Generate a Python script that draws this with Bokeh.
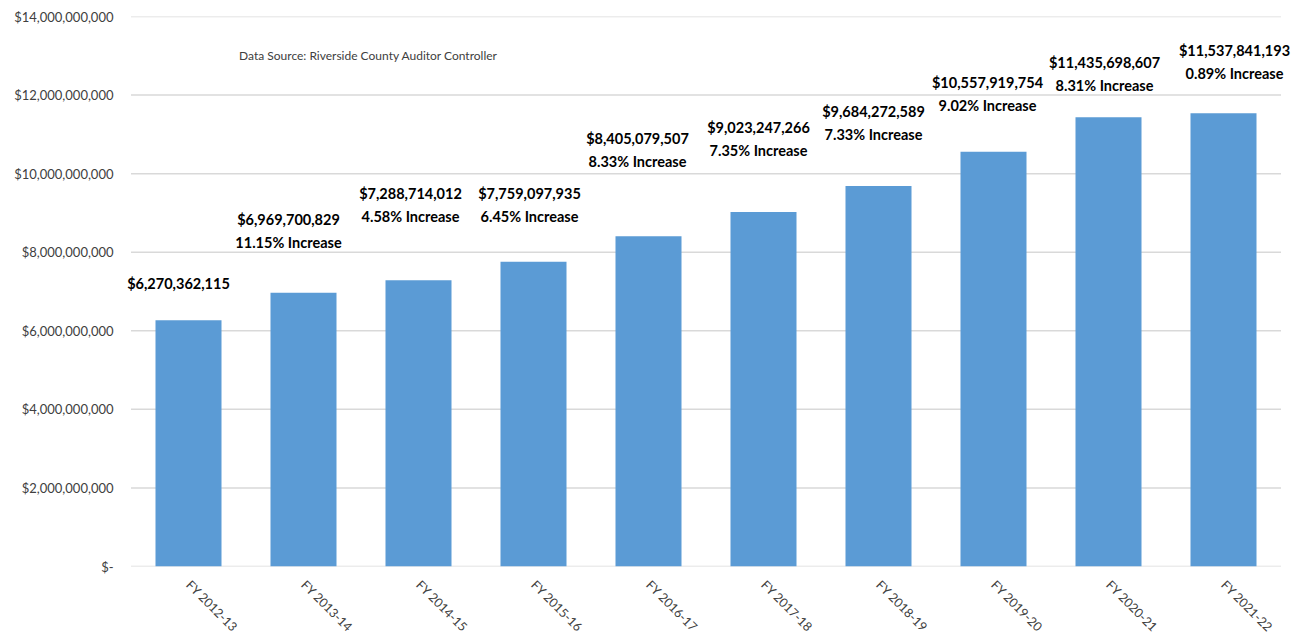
from bokeh.plotting import figure
from bokeh.models import ColumnDataSource, FixedTicker, Label, LabelSet, Range1d, FactorRange
from bokeh.core.properties import value
from bokeh.embed import file_html
from bokeh.resources import INLINE
import math

# ---- data ----
years = ["FY 2012-13", "FY 2013-14", "FY 2014-15", "FY 2015-16", "FY 2016-17",
         "FY 2017-18", "FY 2018-19", "FY 2019-20", "FY 2020-21", "FY 2021-22"]
assessed = [6270362115, 6969700829, 7288714012, 7759097935, 8405079507,
            9023247266, 9684272589, 10557919754, 11435698607, 11537841193]
pct_increase = [None, 11.15, 4.58, 6.45, 8.33, 7.35, 7.33, 9.02, 8.31, 0.89]
y_ticks = [0, 2000000000, 4000000000, 6000000000, 8000000000,
           10000000000, 12000000000, 14000000000]
y_tick_labels = ["$-", "$2,000,000,000", "$4,000,000,000", "$6,000,000,000",
                 "$8,000,000,000", "$10,000,000,000", "$12,000,000,000",
                 "$14,000,000,000"]
source_note = "Data Source: Riverside County Auditor Controller"

# ---- label placement (styling, screen pixels, up = positive) ----
label_dx = [-10, -15, -8, -4, -11, -5, -5, -6, -4, 11]
label_dy = [37, 73, 87, 68, 98, 85, 75, 69, 55, 63]
line_gap = 23

FONT = "Lato"
BAR = "#5B9BD5"
GRID = "#d9d9d9"
TICK_TXT = "#404040"
PAD = 0.1  # synthetic-unit padding per side so outer labels are not clipped

value_labels = ["${:,}".format(v) for v in assessed]
pct_labels = ["" if p is None else "{:.2f}% Increase".format(p) for p in pct_increase]

src = ColumnDataSource(dict(
    x=years, top=assessed, vlab=value_labels, plab=pct_labels,
    dx=label_dx, dy=label_dy, dy2=[d - line_gap for d in label_dy],
))

n = len(years)
p = figure(
    x_range=FactorRange(*years, range_padding=PAD, range_padding_units="absolute"),
    y_range=Range1d(0, y_ticks[-1]),
    frame_width=int(round(115 * (n + 2 * PAD))), frame_height=550,
    output_backend="svg", toolbar_location=None,
    min_border_left=119, min_border_right=4, min_border_top=16, min_border_bottom=50,
)
p.outline_line_color = None
p.background_fill_color = "white"
p.border_fill_color = "white"

# horizontal gridlines limited to the category span
p.segment(x0=[0] * len(y_ticks), x1=[n] * len(y_ticks), y0=y_ticks, y1=y_ticks,
          line_color=GRID, line_width=1.5)

p.vbar(x="x", top="top", width=0.574, source=src, fill_color=BAR, line_color=None)

for col, dycol in (("vlab", "dy"), ("plab", "dy2")):
    p.add_layout(LabelSet(x="x", y="top", text=col, x_offset="dx", y_offset=dycol,
                          source=src, text_font=value(FONT), text_font_style="bold",
                          text_font_size="14.5px", text_color="black",
                          text_align="center", text_baseline="middle"))

p.add_layout(Label(x=0.94, y=13000000000, text=source_note, text_font=FONT,
                   text_font_size="12px", text_color="#404040", text_baseline="middle"))

# y axis
p.yaxis.ticker = FixedTicker(ticks=y_ticks)
p.yaxis.major_label_overrides = {t: l for t, l in zip(y_ticks, y_tick_labels)}
p.yaxis.axis_line_color = None
p.yaxis.major_tick_line_color = None
p.yaxis.minor_tick_line_color = None
p.yaxis.major_label_text_font = FONT
p.yaxis.major_label_text_font_size = "13px"
p.yaxis.major_label_text_color = TICK_TXT
p.yaxis.major_label_standoff = 0

# x axis
p.xaxis.axis_line_color = None
p.xaxis.major_tick_line_color = None
p.xaxis.minor_tick_line_color = None
p.xaxis.major_label_orientation = -math.pi / 4
p.xaxis.major_label_text_font = FONT
p.xaxis.major_label_text_font_size = "12.5px"
p.xaxis.major_label_text_color = TICK_TXT
p.xaxis.major_label_standoff = 10

p.xgrid.grid_line_color = None
p.ygrid.grid_line_color = None

open("out.html", "w").write(file_html(p, INLINE))
